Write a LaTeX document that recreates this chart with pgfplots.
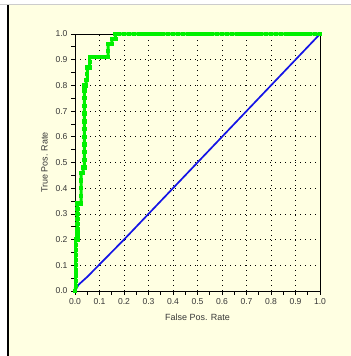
\documentclass[border=0pt]{standalone}
\usepackage{pgfplots}
\pgfplotsset{compat=1.18}
\usepackage{fontspec}
\setmainfont{Liberation Sans}
\definecolor{bgyellow}{RGB}{255,255,226}
\definecolor{roc}{RGB}{0,240,0}
\definecolor{diag}{RGB}{20,20,230}
\definecolor{lbl}{RGB}{55,55,55}
\begin{document}
\begin{tikzpicture}
\useasboundingbox (0,0) rectangle (351bp,356bp);
\fill[white] (0,0) rectangle (351bp,356bp);
\fill[bgyellow] (8.5bp,0) rectangle (351bp,351bp);
\draw[black!20, line width=1bp] (0,351.5bp) -- (351bp,351.5bp);
\draw[black, line width=1.2bp] (8bp,0) -- (8bp,351bp);
\begin{axis}[
  at={(75bp,65bp)}, anchor=south west,
  scale only axis, width=245bp, height=257bp,
  xmin=0, xmax=1, ymin=0, ymax=1,
  xtick={0,0.1,...,1.0}, ytick={0,0.1,...,1.0},
  minor tick num=1,
  tick align=outside,
  major tick length=3.5bp, minor tick length=3.5bp,
  tick style={black, line width=0.7bp},
  xtick pos=bottom, ytick pos=left,
  axis line style={black, line width=0.8bp},
  grid=major,
  major grid style={black, line width=0.7bp, dash pattern=on 0.8bp off 4.2bp},
  /pgf/number format/.cd, fixed, fixed zerofill, precision=1, assume math mode=true,
  /pgfplots/.cd,
  ticklabel style={font=\fontsize{8.6}{9}\selectfont, text=lbl},
  xticklabel style={yshift=-0.5bp},
  yticklabel style={xshift=-0.5bp},
  label style={font=\fontsize{9}{10}\selectfont, text=lbl},
  xlabel={False Pos. Rate},
  ylabel={True Pos. Rate},
  xlabel style={yshift=-3bp},
  ylabel style={yshift=1bp},
  clip=false,
]
\addplot[diag, line width=1.7bp] coordinates {
(0,0) (0.015,0.025) (0.05,0.055) (0.2,0.2) (0.5,0.5) (0.8,0.8) (1,1)
};
\addplot[roc, line width=3bp, line cap=rect, mark=square*, mark size=1.7bp, mark options={solid, fill=roc, draw=roc, line width=0bp}] coordinates {
(0,0) (0.003,0.02) (0.003,0.04) (0.003,0.06) (0.003,0.08) (0.003,0.1) (0.003,0.12) (0.003,0.14) (0.003,0.16) (0.003,0.18) (0.003,0.2)
(0.01,0.2) (0.01,0.22) (0.01,0.24) (0.01,0.26) (0.01,0.28) (0.01,0.3) (0.01,0.32) (0.01,0.34)
(0.018,0.34) (0.025,0.34) (0.025,0.37) (0.025,0.4) (0.025,0.43) (0.025,0.46) (0.033,0.46) (0.033,0.48)
(0.038,0.48) (0.038,0.51) (0.038,0.54) (0.038,0.57) (0.038,0.6) (0.038,0.63) (0.038,0.66) (0.038,0.69) (0.038,0.72) (0.038,0.75) (0.038,0.78) (0.038,0.8)
(0.045,0.8) (0.045,0.82) (0.05,0.82) (0.05,0.845) (0.05,0.87) (0.06,0.87) (0.06,0.89) (0.06,0.91)
(0.075,0.91) (0.09,0.91) (0.105,0.91) (0.12,0.91) (0.135,0.91) (0.135,0.935) (0.135,0.96) (0.15,0.96) (0.15,0.98)
(0.165,0.98) (0.165,1.0) (0.18,1) (0.2,1) (0.22,1) (0.24,1) (0.26,1) (0.28,1) (0.3,1) (0.32,1) (0.34,1) (0.36,1) (0.38,1) (0.4,1) (0.42,1) (0.44,1) (0.46,1) (0.48,1) (0.5,1) (0.52,1) (0.54,1) (0.56,1) (0.58,1)
(0.6,1) (0.62,1) (0.64,1) (0.66,1) (0.68,1) (0.7,1) (0.72,1) (0.74,1) (0.76,1) (0.78,1) (0.8,1) (0.82,1) (0.84,1) (0.86,1) (0.88,1) (0.9,1) (0.92,1) (0.94,1) (0.96,1) (0.98,1) (1,1)
};
\end{axis}
\end{tikzpicture}
\end{document}
